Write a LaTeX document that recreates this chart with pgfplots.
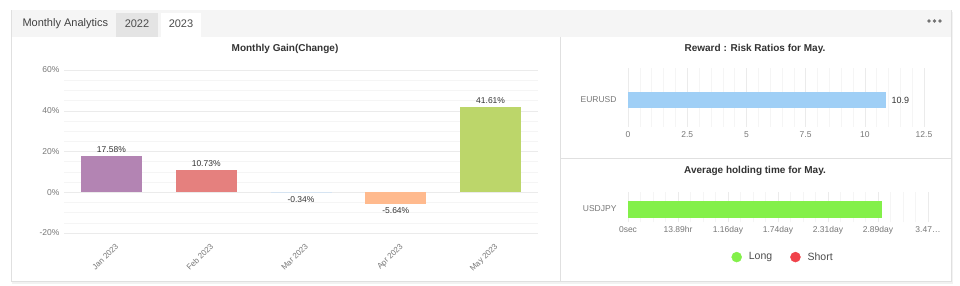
\documentclass[border=0pt]{standalone}
\usepackage{fontspec}
\setmainfont{Liberation Sans}
\usepackage{pgfplots}
\pgfplotsset{compat=1.18}
\definecolor{txt}{HTML}{333333}
\definecolor{tickc}{HTML}{777777}
\definecolor{gridc}{HTML}{EBEBEB}
\definecolor{gridm}{HTML}{F5F5F5}
\definecolor{hdr}{HTML}{F5F5F5}
\definecolor{tabg}{HTML}{E4E4E4}
\definecolor{bord}{HTML}{E0E0E0}
\definecolor{cjan}{HTML}{B384B3}
\definecolor{cfeb}{HTML}{E5807E}
\definecolor{cmar}{HTML}{D6E4F2}
\definecolor{capr}{HTML}{FFBA8E}
\definecolor{cmay}{HTML}{BCD66A}
\definecolor{cblue}{HTML}{9FCFF6}
\definecolor{cgreen}{HTML}{83F04A}
\definecolor{cred}{HTML}{F0424A}
\begin{document}
\begin{tikzpicture}
\path[use as bounding box, fill=white] (0,0) rectangle (960pt,-286pt);
% panel
\fill[black!5] (12pt,-12pt) rectangle (953pt,-284pt);
\draw[bord, fill=white] (11pt,-10pt) rectangle (951pt,-281pt);
\fill[hdr] (11.5pt,-10.5pt) rectangle (950.5pt,-37pt);
\fill[tabg] (116pt,-13pt) rectangle (158pt,-37pt);
\fill[white] (161pt,-13pt) rectangle (201pt,-37.5pt);
\node[anchor=west, font=\fontsize{11}{13}\selectfont, text=black!75] at (19pt,-24pt) {Monthly Analytics};
\node[font=\fontsize{11}{13}\selectfont, text=black!70] at (137pt,-24pt) {2022};
\node[font=\fontsize{11}{13}\selectfont, text=black!70] at (181pt,-24pt) {2023};
\foreach \xx in {929,934.5,940} \fill[black!55] (\xx pt,-21pt) circle (1.8pt);
\draw[bord] (560pt,-37pt) -- (560pt,-281pt);
\draw[bord] (560pt,-158pt) -- (951pt,-158pt);
% titles
\node[font=\bfseries\fontsize{10}{12}\selectfont, text=txt] at (285pt,-49pt) {Monthly Gain(Change)};
\node[font=\bfseries\fontsize{10}{12}\selectfont, text=txt] at (755pt,-49pt) {Reward : Risk Ratios for May.};
\node[font=\bfseries\fontsize{10}{12}\selectfont, text=txt] at (755pt,-171pt) {Average holding time for May.};

% left chart
\begin{axis}[at={(64pt,-233pt)}, anchor=south west, scale only axis,
  width=474pt, height=163pt,
  xmin=-0.5, xmax=4.5, ymin=-20, ymax=60,
  ytick={-20,0,20,40,60}, minor y tick num=3,
  ymajorgrids, yminorgrids,
  major grid style={gridc}, minor grid style={gridm},
  axis line style={draw=none}, major tick length=0pt, minor tick length=0pt,
  xtick={0,1,2,3,4},
  xticklabels={Jan 2023,Feb 2023,Mar 2023,Apr 2023,May 2023},
  xticklabel style={rotate=45, anchor=north east, font=\fontsize{8}{9}\selectfont, text=tickc, yshift=-6pt, xshift=-1pt},
  /pgf/number format/assume math mode=true,
  yticklabel={\pgfmathprintnumber{\tick}\%},
  yticklabel style={font=\fontsize{8.5}{10}\selectfont, text=tickc, xshift=-1pt},
  ybar, bar width=61pt,
  nodes near coords={\pgfmathprintnumber[fixed,fixed zerofill,precision=2]{\pgfplotspointmeta}\%},
  nodes near coords style={font=\fontsize{8.5}{10}\selectfont, text=txt},
]
\addplot[bar shift=0pt, fill=cjan, draw=none] coordinates {(0,17.58)};
\addplot[bar shift=0pt, fill=cfeb, draw=none] coordinates {(1,10.73)};
\addplot[bar shift=0pt, fill=cmar, draw=none] coordinates {(2,-0.34)};
\addplot[bar shift=0pt, fill=capr, draw=none] coordinates {(3,-5.64)};
\addplot[bar shift=0pt, fill=cmay, draw=none] coordinates {(4,41.61)};
\end{axis}

% reward risk
\begin{axis}[at={(628pt,-127pt)}, anchor=south west, scale only axis,
  width=296pt, height=59pt,
  xmin=0, xmax=12.5, ymin=-27, ymax=32,
  xtick={0,2.5,5,7.5,10,12.5}, minor x tick num=4,
  xmajorgrids, xminorgrids,
  major grid style={gridc}, minor grid style={gridm},
  axis line style={draw=none}, major tick length=0pt, minor tick length=0pt,
  ytick={0}, yticklabels={EURUSD},
  /pgf/number format/assume math mode=true,
  xticklabel style={font=\fontsize{8.5}{10}\selectfont, text=tickc, yshift=-1pt},
  yticklabel style={font=\fontsize{8.5}{10}\selectfont, text=tickc, xshift=-8pt},
  xbar, bar width=16pt,
  nodes near coords, nodes near coords style={font=\fontsize{9}{10}\selectfont, text=txt, xshift=2pt},
]
\addplot[bar shift=0pt, fill=cblue, draw=none] coordinates {(10.9,0)};
\end{axis}

% holding time
\begin{axis}[at={(628pt,-222pt)}, anchor=south west, scale only axis,
  width=300pt, height=30pt,
  xmin=0, xmax=83.34, ymin=-13, ymax=17,
  xtick={0,13.89,27.78,41.67,55.56,69.45,83.34}, minor x tick num=3,
  xticklabels={0sec,13.89hr,1.16day,1.74day,2.31day,2.89day,3.47\ldots},
  xmajorgrids, xminorgrids,
  major grid style={gridc}, minor grid style={gridm},
  axis line style={draw=none}, major tick length=0pt, minor tick length=0pt,
  ytick={0}, yticklabels={USDJPY},
  xticklabel style={font=\fontsize{8.5}{10}\selectfont, text=tickc, yshift=-1pt},
  yticklabel style={font=\fontsize{8.5}{10}\selectfont, text=tickc, xshift=-8pt},
  xbar, bar width=17pt,
  legend columns=2,
  legend style={at={(0.517,-1.17)}, anchor=center, draw=none, fill=none,
    font=\fontsize{10.5}{12}\selectfont, text=black!70,
    /tikz/every odd column/.append style={column sep=5pt},
    /tikz/every even column/.append style={column sep=16pt}},
]
\addplot[bar shift=0pt, fill=cgreen, draw=none, forget plot] coordinates {(70.6,0)};
\addlegendimage{legend image code/.code={\fill[cgreen] (0.3em,0pt) circle (5pt);}}
\addlegendentry{Long}
\addlegendimage{legend image code/.code={\fill[cred] (0.3em,0pt) circle (5pt);}}
\addlegendentry{Short}
\end{axis}
\end{tikzpicture}
\end{document}
